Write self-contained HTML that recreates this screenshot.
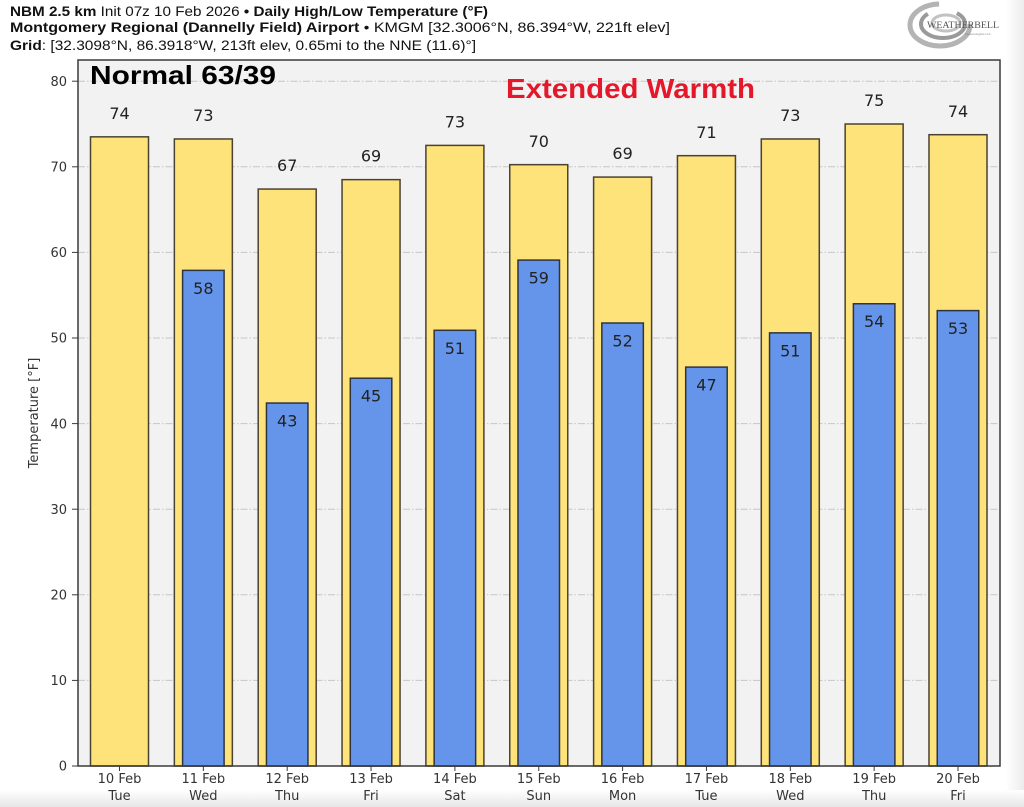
<!DOCTYPE html>
<html>
<head>
<meta charset="utf-8">
<style>
  html, body { margin:0; padding:0; background:#fff; }
  body { width:1024px; height:807px; overflow:hidden; }
  svg { display:block; }
  .tick { font-family:"DejaVu Sans", "Liberation Sans", sans-serif; font-size:13px; fill:#333; }
  .val { font-family:"DejaVu Sans", "Liberation Sans", sans-serif; font-size:16px; fill:#222; text-anchor:middle; }
  .hdr { font-family:"Liberation Sans", "DejaVu Sans", sans-serif; font-size:14px; fill:#111; }
  .b { font-weight:bold; }
</style>
</head>
<body>
<svg width="1024" height="807" viewBox="0 0 1024 807" xmlns="http://www.w3.org/2000/svg">
  <defs>
    <linearGradient id="gb" x1="0" y1="0" x2="0" y2="1">
      <stop offset="0" stop-color="#ffffff"/>
      <stop offset="1" stop-color="#e6e6e6"/>
    </linearGradient>
    <linearGradient id="gr" x1="0" y1="0" x2="1" y2="0">
      <stop offset="0" stop-color="#ffffff"/>
      <stop offset="1" stop-color="#ececec"/>
    </linearGradient>
  </defs>
  <rect x="0" y="0" width="1024" height="807" fill="#fff"/>
  <rect x="1006" y="0" width="18" height="807" fill="url(#gr)"/>
  <rect x="0" y="790" width="1024" height="17" fill="url(#gb)"/>

  <!-- Header -->
  <text class="hdr" x="10" y="16" textLength="478" lengthAdjust="spacingAndGlyphs"><tspan class="b">NBM 2.5 km</tspan> Init 07z 10 Feb 2026 <tspan class="b">• Daily High/Low Temperature (°F)</tspan></text>
  <text class="hdr" x="10" y="32" textLength="660" lengthAdjust="spacingAndGlyphs"><tspan class="b">Montgomery Regional (Dannelly Field) Airport</tspan> • KMGM [32.3006°N, 86.394°W, 221ft elev]</text>
  <text class="hdr" x="10" y="50" textLength="466" lengthAdjust="spacingAndGlyphs"><tspan class="b">Grid</tspan>: [32.3098°N, 86.3918°W, 213ft elev, 0.65mi to the NNE (11.6)°]</text>

  <!-- Logo -->
  <g fill="none" stroke="#a8a8a8">
    <ellipse cx="940" cy="25" rx="30" ry="21" stroke-width="5" stroke="#b4b4b4" stroke-dasharray="120,40"/>
    <ellipse cx="943" cy="24" rx="22" ry="14" stroke-width="4" stroke="#9a9a9a" stroke-dasharray="70,30"/>
    <ellipse cx="946" cy="23" rx="14" ry="8" stroke-width="3" stroke="#c2c2c2"/>
  </g>
  <text x="927" y="28" font-family="Liberation Serif, serif" font-size="9" fill="#555" textLength="72" lengthAdjust="spacingAndGlyphs">WEATHERBELL</text>
  <text x="965" y="35" font-family="Liberation Sans, sans-serif" font-size="3" fill="#888">Meteorologists LLC</text>

  <!-- Axes background -->
  <rect x="78" y="60" width="922" height="706" fill="#f2f2f2"/>

  <!-- Grid lines -->
  <g stroke="#c6c6c6" stroke-width="1" stroke-dasharray="7,2,1.5,2">
    <line x1="78" x2="1000" y1="680.4" y2="680.4"/>
    <line x1="78" x2="1000" y1="594.8" y2="594.8"/>
    <line x1="78" x2="1000" y1="509.2" y2="509.2"/>
    <line x1="78" x2="1000" y1="423.6" y2="423.6"/>
    <line x1="78" x2="1000" y1="338" y2="338"/>
    <line x1="78" x2="1000" y1="252.4" y2="252.4"/>
    <line x1="78" x2="1000" y1="166.8" y2="166.8"/>
    <line x1="78" x2="1000" y1="81.2" y2="81.2"/>
  </g>

  <!-- High bars -->
  <g fill="#fee27a" stroke="#4a4232" stroke-width="1.5">
    <rect x="90.5" y="136.84" width="58" height="629.16"/>
    <rect x="174.35" y="138.98" width="58" height="627.02"/>
    <rect x="258.2" y="189.06" width="58" height="576.94"/>
    <rect x="342.05" y="179.64" width="58" height="586.36"/>
    <rect x="425.9" y="145.4" width="58" height="620.6"/>
    <rect x="509.75" y="164.66" width="58" height="601.34"/>
    <rect x="593.6" y="177.07" width="58" height="588.93"/>
    <rect x="677.45" y="155.67" width="58" height="610.33"/>
    <rect x="761.3" y="138.98" width="58" height="627.02"/>
    <rect x="845.15" y="124" width="58" height="642"/>
    <rect x="929" y="134.7" width="58" height="631.3"/>
  </g>

  <!-- Low bars -->
  <g fill="#6595eb" stroke="#2f3340" stroke-width="1.5">
    <rect x="182.6" y="270.38" width="41.5" height="495.62"/>
    <rect x="266.45" y="403.06" width="41.5" height="362.94"/>
    <rect x="350.3" y="378.23" width="41.5" height="387.77"/>
    <rect x="434.15" y="330.3" width="41.5" height="435.7"/>
    <rect x="518" y="260.1" width="41.5" height="505.9"/>
    <rect x="601.85" y="323.02" width="41.5" height="442.98"/>
    <rect x="685.7" y="367.1" width="41.5" height="398.9"/>
    <rect x="769.55" y="332.86" width="41.5" height="433.14"/>
    <rect x="853.4" y="303.76" width="41.5" height="462.24"/>
    <rect x="937.25" y="310.61" width="41.5" height="455.39"/>
  </g>

  <!-- High labels -->
  <text class="val" x="119.5" y="119">74</text>
  <text class="val" x="203.35" y="121">73</text>
  <text class="val" x="287.2" y="171">67</text>
  <text class="val" x="371.05" y="161.5">69</text>
  <text class="val" x="454.9" y="127.5">73</text>
  <text class="val" x="538.75" y="147">70</text>
  <text class="val" x="622.6" y="159">69</text>
  <text class="val" x="706.45" y="138">71</text>
  <text class="val" x="790.3" y="121">73</text>
  <text class="val" x="874.15" y="106">75</text>
  <text class="val" x="958" y="117">74</text>

  <!-- Low labels -->
  <text class="val" x="203.35" y="294">58</text>
  <text class="val" x="287.2" y="426.5">43</text>
  <text class="val" x="371.05" y="401.5">45</text>
  <text class="val" x="454.9" y="354">51</text>
  <text class="val" x="538.75" y="283.5">59</text>
  <text class="val" x="622.6" y="346.5">52</text>
  <text class="val" x="706.45" y="390.5">47</text>
  <text class="val" x="790.3" y="356.5">51</text>
  <text class="val" x="874.15" y="327">54</text>
  <text class="val" x="958" y="334">53</text>

  <!-- Annotations -->
  <text x="90" y="84" font-family="Liberation Sans, sans-serif" font-weight="bold" font-size="26" fill="#000" textLength="186" lengthAdjust="spacingAndGlyphs">Normal 63/39</text>
  <text x="506" y="98" font-family="Liberation Sans, sans-serif" font-weight="bold" font-size="28" fill="#e3192b" textLength="249" lengthAdjust="spacingAndGlyphs">Extended Warmth</text>

  <!-- Spines -->
  <rect x="78" y="60" width="922" height="706" fill="none" stroke="#3a3a3a" stroke-width="1.5"/>

  <!-- Y ticks -->
  <g stroke="#3a3a3a" stroke-width="1">
    <line x1="72" x2="78" y1="766" y2="766"/>
    <line x1="72" x2="78" y1="680.4" y2="680.4"/>
    <line x1="72" x2="78" y1="594.8" y2="594.8"/>
    <line x1="72" x2="78" y1="509.2" y2="509.2"/>
    <line x1="72" x2="78" y1="423.6" y2="423.6"/>
    <line x1="72" x2="78" y1="338" y2="338"/>
    <line x1="72" x2="78" y1="252.4" y2="252.4"/>
    <line x1="72" x2="78" y1="166.8" y2="166.8"/>
    <line x1="72" x2="78" y1="81.2" y2="81.2"/>
  </g>
  <g class="tick" text-anchor="end">
    <text x="67" y="770.7">0</text>
    <text x="67" y="685.1">10</text>
    <text x="67" y="599.5">20</text>
    <text x="67" y="513.9">30</text>
    <text x="67" y="428.3">40</text>
    <text x="67" y="342.7">50</text>
    <text x="67" y="257.1">60</text>
    <text x="67" y="171.5">70</text>
    <text x="67" y="85.9">80</text>
  </g>
  <text class="tick" transform="translate(38,413) rotate(-90)" text-anchor="middle">Temperature [°F]</text>

  <!-- X tick marks -->
  <g stroke="#3a3a3a" stroke-width="1">
    <line x1="119.5" x2="119.5" y1="766" y2="771"/>
    <line x1="203.35" x2="203.35" y1="766" y2="771"/>
    <line x1="287.2" x2="287.2" y1="766" y2="771"/>
    <line x1="371.05" x2="371.05" y1="766" y2="771"/>
    <line x1="454.9" x2="454.9" y1="766" y2="771"/>
    <line x1="538.75" x2="538.75" y1="766" y2="771"/>
    <line x1="622.6" x2="622.6" y1="766" y2="771"/>
    <line x1="706.45" x2="706.45" y1="766" y2="771"/>
    <line x1="790.3" x2="790.3" y1="766" y2="771"/>
    <line x1="874.15" x2="874.15" y1="766" y2="771"/>
    <line x1="958" x2="958" y1="766" y2="771"/>
  </g>
  <g class="tick" text-anchor="middle">
    <text x="119.5" y="783">10 Feb</text><text x="119.5" y="800">Tue</text>
    <text x="203.35" y="783">11 Feb</text><text x="203.35" y="800">Wed</text>
    <text x="287.2" y="783">12 Feb</text><text x="287.2" y="800">Thu</text>
    <text x="371.05" y="783">13 Feb</text><text x="371.05" y="800">Fri</text>
    <text x="454.9" y="783">14 Feb</text><text x="454.9" y="800">Sat</text>
    <text x="538.75" y="783">15 Feb</text><text x="538.75" y="800">Sun</text>
    <text x="622.6" y="783">16 Feb</text><text x="622.6" y="800">Mon</text>
    <text x="706.45" y="783">17 Feb</text><text x="706.45" y="800">Tue</text>
    <text x="790.3" y="783">18 Feb</text><text x="790.3" y="800">Wed</text>
    <text x="874.15" y="783">19 Feb</text><text x="874.15" y="800">Thu</text>
    <text x="958" y="783">20 Feb</text><text x="958" y="800">Fri</text>
  </g>
</svg>
</body>
</html>
